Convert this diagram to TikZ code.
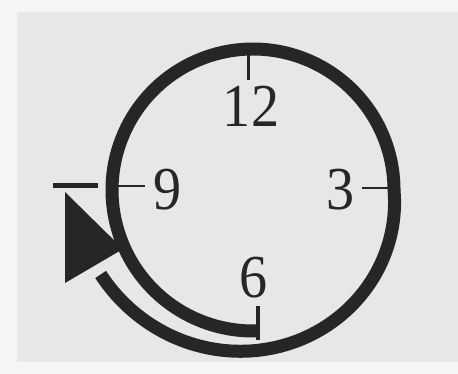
\documentclass[tikz,border=0pt]{standalone}
\usepackage{fontspec}
\setmainfont{Liberation Serif}
\definecolor{ink}{HTML}{262626}
\definecolor{paper}{HTML}{E6E7E9}
\definecolor{marginc}{HTML}{F5F5F5}
\tikzset{
  band/.style={draw=ink, line width=13pt, line cap=butt, line join=round},
  ticky/.style={draw=ink, line width=3pt},
  num/.style={font=\fontsize{61}{61}\selectfont, text=ink, inner sep=0pt, xscale=0.92},
}
\begin{document}
\begin{tikzpicture}[x=1pt,y=1pt]
\fill[marginc] (0,0) rectangle (458,374);
\fill[paper] (17,12) rectangle (458,362);
\useasboundingbox (0,0) rectangle (458,374);
% spiral: clock ring from 6 clockwise, then outward
\draw[band] plot[domain=88:511, samples=240, variable=\t]
  ({253+(141+0.22*max(0,\t-360))*cos(\t)}, {184-(141+0.22*max(0,\t-360))*sin(\t)});
% arrow head
\fill[ink] (65,182) -- (65,91) -- (123,125) -- cycle;
% ticks
\coordinate (t12a) at (248,325); \coordinate (t12b) at (248,294);
\coordinate (t3a) at (392,186);  \coordinate (t3b) at (362,186);
\coordinate (t9a) at (114,188);  \coordinate (t9b) at (145,188);
\coordinate (t9c) at (53,188);   \coordinate (t9d) at (98,188);
\coordinate (t6a) at (258,34);   \coordinate (t6b) at (258,68);
\draw[ticky] (t12a) -- (t12b);
\draw[ticky, line width=2.5pt] (t3a) -- (t3b);
\draw[ticky, line width=2.5pt] (t9a) -- (t9b);
\draw[ticky, line width=5pt] (t9c) -- (t9d);
\draw[ticky, line width=3.5pt] (t6a) -- (t6b);
% labels
\node[num] (n12) at (251,268) {12};
\node[num] (n3) at (341,184) {3};
\node[num] (n9) at (168,184) {9};
\node[num] (n6) at (254,96) {6};
\end{tikzpicture}
\end{document}
